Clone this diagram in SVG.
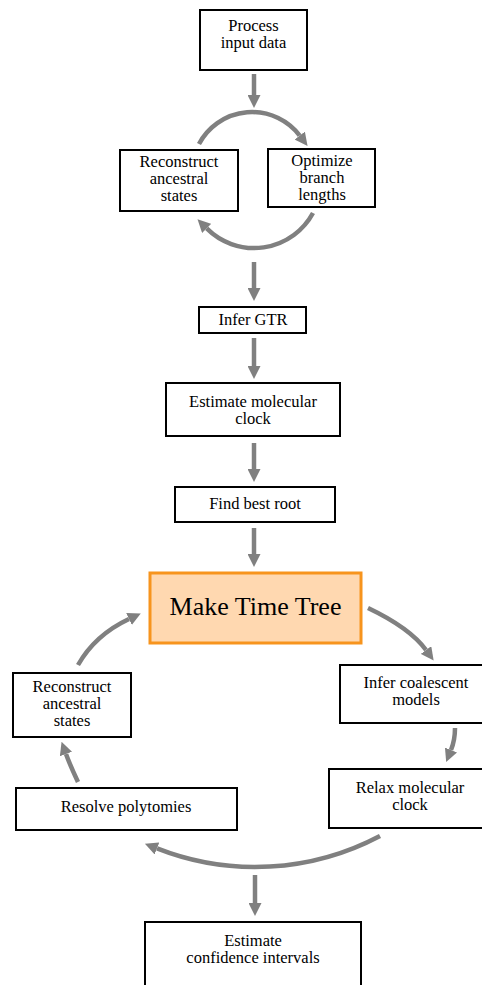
<svg xmlns="http://www.w3.org/2000/svg" width="482" height="985" viewBox="0 0 482 985">
<defs>
<marker id="ah" viewBox="0 0 13 13" refX="0" refY="6.5" markerWidth="13" markerHeight="13" markerUnits="userSpaceOnUse" orient="auto">
<path d="M0,0 L13,6.5 L0,13 z" fill="#808080"/>
</marker>
<style>
.box{fill:#fff;stroke:#000;stroke-width:2}
.main{fill:#ffd8b0;stroke:#f7941d;stroke-width:3}
.t{font-family:"Liberation Serif",serif;font-size:16.5px;fill:#000;text-anchor:middle}
.big{font-family:"Liberation Serif",serif;font-size:26px;fill:#000;text-anchor:middle}
.c{fill:none;stroke:#808080;stroke-width:4.5;marker-end:url(#ah)}
</style>
</defs>
<rect width="482" height="985" fill="#fff"/>
<g id="connectors">
<path class="c" d="M254,74 L254,95"/>
<path class="c" d="M199,144 A60,60 0 0 1 299.7,135.6"/>
<path class="c" d="M313,213 A67,67 0 0 1 206.7,228.4"/>
<path class="c" d="M254,262 L254,288"/>
<path class="c" d="M254,338 L254,366"/>
<path class="c" d="M254,443 L254,469"/>
<path class="c" d="M254,528 L254,554"/>
<path class="c" d="M368,608 Q410,628 426,650"/>
<path class="c" d="M455,728 Q455,740 451,750"/>
<path class="c" d="M380,836 A267.5,267.5 0 0 1 157,848.4"/>
<path class="c" d="M255,875 L255,903"/>
<path class="c" d="M78,782 Q70,765 66,754"/>
<path class="c" d="M78,665 Q95,635 129,619"/>
</g>
<g id="process">
<rect class="box" x="200" y="10" width="107" height="60"/>
<text class="t" x="253.5" y="31">Process</text>
<text class="t" x="253.5" y="48">input data</text>
</g>
<g id="reconstruct1">
<rect class="box" x="120" y="150" width="118" height="61"/>
<text class="t" x="179" y="167">Reconstruct</text>
<text class="t" x="179" y="184">ancestral</text>
<text class="t" x="179" y="201">states</text>
</g>
<g id="optimize">
<rect class="box" x="268" y="149" width="107" height="58"/>
<text class="t" x="322" y="166">Optimize</text>
<text class="t" x="322" y="183">branch</text>
<text class="t" x="322" y="200">lengths</text>
</g>
<g id="gtr">
<rect class="box" x="199" y="307" width="107" height="26"/>
<text class="t" x="253" y="325">Infer GTR</text>
</g>
<g id="clock">
<rect class="box" x="166" y="383" width="174" height="53"/>
<text class="t" x="253" y="407">Estimate molecular</text>
<text class="t" x="253" y="424">clock</text>
</g>
<g id="root">
<rect class="box" x="175" y="487" width="160" height="35"/>
<text class="t" x="255" y="509">Find best root</text>
</g>
<g id="timetree">
<rect class="main" x="150" y="573" width="211" height="70"/>
<text class="big" x="255.5" y="615">Make Time Tree</text>
</g>
<g id="coalescent">
<rect class="box" x="340" y="665" width="155" height="58"/>
<text class="t" x="416" y="688">Infer coalescent</text>
<text class="t" x="416" y="705">models</text>
</g>
<g id="relax">
<rect class="box" x="329" y="769" width="166" height="59"/>
<text class="t" x="410" y="793">Relax molecular</text>
<text class="t" x="410" y="810">clock</text>
</g>
<g id="polytomies">
<rect class="box" x="16" y="788" width="221" height="42"/>
<text class="t" x="126" y="812">Resolve polytomies</text>
</g>
<g id="reconstruct2">
<rect class="box" x="13" y="673" width="118" height="64"/>
<text class="t" x="72" y="692">Reconstruct</text>
<text class="t" x="72" y="709">ancestral</text>
<text class="t" x="72" y="726">states</text>
</g>
<g id="confidence">
<rect class="box" x="145" y="922" width="216" height="75"/>
<text class="t" x="253" y="946">Estimate</text>
<text class="t" x="253" y="963">confidence intervals</text>
</g>
</svg>
